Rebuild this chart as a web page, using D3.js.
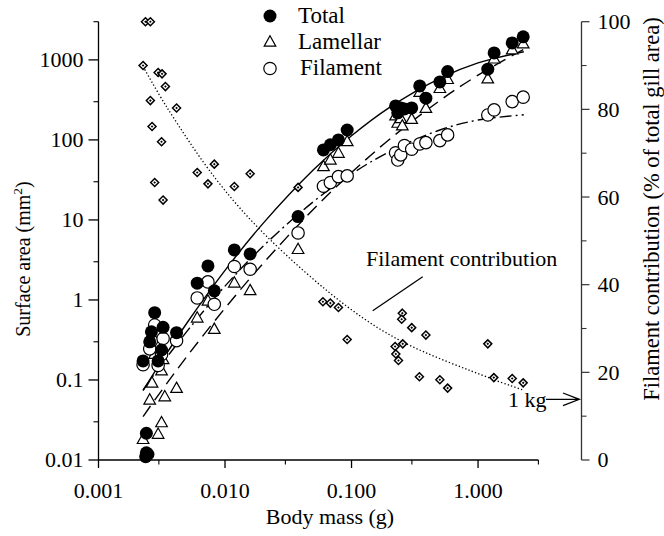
<!DOCTYPE html>
<html><head><meta charset="utf-8">
<script src="https://cdn.jsdelivr.net/npm/d3@7"></script>
<style>
body{margin:0;background:#fff;}
svg{display:block;}
text{font-family:"Liberation Serif","Times New Roman",serif;fill:#000;}
</style></head>
<body>
<div id="chart"></div>
<script>
// ---------- DATA ----------
const totalMass = [0.00225,0.00296,0.00278,0.00324,0.00262,0.00414,0.00254,0.00315,0.00239,0.00239,0.00246,0.00236,
  0.00603,0.00733,0.00823,0.01185,0.0158,0.0378,0.060,0.068,0.0788,0.0924,
  0.223,0.232,0.245,0.262,0.299,0.346,0.387,0.499,0.575,1.194,1.34,1.862,2.275];
const totalArea = [0.173,0.173,0.694,0.455,0.40,0.39,0.30,0.237,0.0216,0.0123,0.0118,0.011,
  1.62,2.66,1.30,4.22,3.76,11.0,75,87,100,133,
  266,218,251,244,251,473,332,531,714,765,1223,1631,1939];

const lamellarMass = [0.00225,0.00296,0.00254,0.00265,0.00414,0.00315,0.00334,0.00315,0.00278,0.00324,
  0.00603,0.00733,0.00823,0.01185,0.0158,0.0378,0.060,0.068,0.0788,0.0924,
  0.223,0.232,0.245,0.252,0.299,0.346,0.387,0.499,0.575,1.194,1.34,1.862,2.275];
const lamellarArea = [0.0181,0.021,0.0562,0.0917,0.0787,0.13,0.0618,0.0293,0.21,0.18,
  0.596,0.97,0.43,1.63,1.31,4.28,46.4,56.2,68.2,95.3,
  200,162,185,150,181,393,248,440,570,579,1029,1334,1585];

const filamentMass = [0.00225,0.00296,0.00254,0.00262,0.00414,0.00324,0.00278,0.00315,
  0.00603,0.00733,0.00823,0.01185,0.0158,0.0378,0.060,0.068,0.0788,0.0924,
  0.223,0.232,0.245,0.262,0.299,0.346,0.387,0.499,0.575,1.194,1.34,1.862,2.275];
const filamentArea = [0.155,0.152,0.245,0.31,0.31,0.33,0.487,0.208,
  1.06,1.68,0.883,2.62,2.42,6.88,26.4,29.3,34.8,35.5,
  69,56,65,85,76.5,89,92.5,98,115.5,205,237,301,342];

const contribMass = [0.00235,0.00257,0.00225,0.00296,0.00318,0.00338,0.00257,0.00414,0.00265,0.00315,
  0.00823,0.00603,0.0158,0.00278,0.00733,0.01185,0.0378,0.00324,0.0594,0.068,0.0788,0.0924,
  0.252,0.249,0.299,0.387,0.221,0.254,0.224,0.235,0.344,0.499,0.575,1.194,1.333,1.862,2.275];
const contribPct = [100,100,90.0,88.4,88.1,85.2,82.0,80.3,76.1,72.6,
  67.5,65.6,65.3,63.3,63.0,62.4,62.2,59.3,36.1,35.8,34.8,27.5,
  33.5,32.1,30.2,28.5,25.9,26.5,24.2,22.7,19.0,18.3,16.4,26.5,18.8,18.6,17.6];

// fitted curves
const fitMass = [0.00225,0.003,0.005,0.01,0.02,0.05,0.1,0.2,0.5,1,2.3];
const totalFit = [0.0736,0.152,0.515,2.34,9.06,42.3,112.5,255,588,916,1262];
const lamellarFit = [0.0349,0.0662,0.197,0.789,2.86,13.6,39.1,102,311,644,1355];
const filamentFit = [0.075,0.141,0.405,1.49,4.69,16.9,37.5,71.4,133,177,206];
const contribFitMass = [0.00225,0.00345,0.00858,0.0214,0.0924,0.252,1.26,2.26];
const contribFitPct = [89.8,80.6,63.9,51.0,35.0,27.0,18.6,16.0];

const xTicks = [0.001,0.01,0.1,1];
const xTickLabels = ["0.001","0.010","0.100","1.000"];
const xMinor = [0.003,0.03,0.3,3];
const yTicks = [0.01,0.1,1,10,100,1000];
const yTickLabels = ["0.01","0.1","1","10","100","1000"];
const yMinor = [0.03,0.3,3,30,300,3000];
const rTicks = [0,20,40,60,80,100];
const rMinor = [10,30,50,70,90];

// ---------- CHART ----------
const W = 664, H = 536;
const svg = d3.select("#chart").append("svg").attr("width", W).attr("height", H);

const x = d3.scaleLog().domain([0.001, 3]).range([98.5, 538.4]);
const y = d3.scaleLog().domain([0.01, 3000]).range([460, 21.7]);
const yr = d3.scaleLinear().domain([0, 100]).range([460, 21.7]);
const rightX = 581.5;

// axes
const gx = svg.append("g").attr("transform", "translate(0,460)");
gx.append("line").attr("x1", x(0.001)).attr("x2", x(3)).attr("stroke", "#000").attr("stroke-width", 1.3);
gx.selectAll(".mj").data(xTicks).join("line").attr("x1", d => x(d)).attr("x2", d => x(d))
  .attr("y1", 0).attr("y2", 8).attr("stroke", "#000").attr("stroke-width", 1.3);
gx.selectAll(".mn").data(xMinor).join("line").attr("x1", d => x(d)).attr("x2", d => x(d))
  .attr("y1", 0).attr("y2", 4.5).attr("stroke", "#000").attr("stroke-width", 1.1);
gx.selectAll("text").data(xTicks).join("text").attr("x", d => x(d)).attr("y", 38)
  .attr("text-anchor", "middle").attr("font-size", 22).text((d, i) => xTickLabels[i]);

const gy = svg.append("g").attr("transform", "translate(98.5,0)");
gy.append("line").attr("y1", y(0.01)).attr("y2", y(3000)).attr("stroke", "#000").attr("stroke-width", 1.3);
gy.selectAll(".mj").data(yTicks).join("line").attr("y1", d => y(d)).attr("y2", d => y(d))
  .attr("x1", 0).attr("x2", -10).attr("stroke", "#000").attr("stroke-width", 1.3);
gy.selectAll(".mn").data(yMinor).join("line").attr("y1", d => y(d)).attr("y2", d => y(d))
  .attr("x1", 0).attr("x2", -5).attr("stroke", "#000").attr("stroke-width", 1.1);
gy.selectAll("text").data(yTicks).join("text").attr("x", -15).attr("y", d => y(d)).attr("dy", "0.34em")
  .attr("text-anchor", "end").attr("font-size", 22).text((d, i) => yTickLabels[i]);

const gr = svg.append("g").attr("transform", `translate(${rightX},0)`);
gr.append("line").attr("y1", yr(0)).attr("y2", yr(100)).attr("stroke", "#333").attr("stroke-width", 1.3);
gr.selectAll(".mj").data(rTicks).join("line").attr("y1", d => yr(d)).attr("y2", d => yr(d))
  .attr("x1", 0).attr("x2", 8).attr("stroke", "#333").attr("stroke-width", 1.2);
gr.selectAll(".mn").data(rMinor).join("line").attr("y1", d => yr(d)).attr("y2", d => yr(d))
  .attr("x1", 0).attr("x2", 5).attr("stroke", "#333").attr("stroke-width", 1.1);
gr.selectAll("text").data(rTicks).join("text").attr("x", 16).attr("y", d => yr(d)).attr("dy", "0.34em")
  .attr("text-anchor", "start").attr("font-size", 22).text(d => d);

// axis titles
svg.append("text").attr("x", 330).attr("y", 524).attr("text-anchor", "middle").attr("font-size", 22).text("Body mass (g)");
const lt = svg.append("text").attr("transform", "translate(30,259) rotate(-90)").attr("text-anchor", "middle").attr("font-size", 20);
lt.append("tspan").text("Surface area (mm");
lt.append("tspan").attr("font-size", 13.5).attr("dy", -8).text("2");
lt.append("tspan").attr("dy", 8).text(")");
svg.append("text").attr("transform", "translate(659,209) rotate(-90)").attr("text-anchor", "middle")
  .attr("font-size", 22.5).text("Filament contribution (% of total gill area)");

// curves
const line = d3.line().curve(d3.curveCatmullRom.alpha(0.5));
svg.append("path").attr("d", line(fitMass.map((m, i) => [x(m), y(totalFit[i])])))
  .attr("fill", "none").attr("stroke", "#000").attr("stroke-width", 1.4);
svg.append("path").attr("d", line(fitMass.map((m, i) => [x(m), y(lamellarFit[i])])))
  .attr("fill", "none").attr("stroke", "#000").attr("stroke-width", 1.4).attr("stroke-dasharray", "13,7");
svg.append("path").attr("d", line(fitMass.map((m, i) => [x(m), y(filamentFit[i])])))
  .attr("fill", "none").attr("stroke", "#000").attr("stroke-width", 1.4).attr("stroke-dasharray", "12,4,2,4");
svg.append("path").attr("d", line(contribFitMass.map((m, i) => [x(m), yr(contribFitPct[i])])))
  .attr("fill", "none").attr("stroke", "#000").attr("stroke-width", 1.3).attr("stroke-dasharray", "1.3,2.2");

// markers
const diamond = r => `M0,${-r}L${r},0L0,${r}L${-r},0Z`;
const tri = "M0,-6.2L5.8,4.1L-5.8,4.1Z";
const gd = svg.append("g");
contribMass.forEach((m, i) => {
  const g = gd.append("g").attr("transform", `translate(${x(m)},${yr(contribPct[i])})`);
  g.append("path").attr("d", diamond(4)).attr("fill", "#fff").attr("stroke", "#000").attr("stroke-width", 1.5);
  g.append("path").attr("d", diamond(1.3)).attr("fill", "#000");
});
svg.append("g").selectAll("path").data(lamellarMass).join("path")
  .attr("transform", (m, i) => `translate(${x(m)},${y(lamellarArea[i])})`)
  .attr("d", tri).attr("fill", "#fff").attr("stroke", "#000").attr("stroke-width", 1.2);
svg.append("g").selectAll("circle").data(filamentMass).join("circle")
  .attr("cx", m => x(m)).attr("cy", (m, i) => y(filamentArea[i])).attr("r", 6.2)
  .attr("fill", "#fff").attr("stroke", "#000").attr("stroke-width", 1.2);
svg.append("g").selectAll("circle").data(totalMass).join("circle")
  .attr("cx", m => x(m)).attr("cy", (m, i) => y(totalArea[i])).attr("r", 6.5).attr("fill", "#000");

// legend
svg.append("circle").attr("cx", 270).attr("cy", 16).attr("r", 6.5).attr("fill", "#000");
svg.append("text").attr("x", 298).attr("y", 23).attr("font-size", 23).text("Total");
svg.append("path").attr("transform", "translate(270,42)").attr("d", tri).attr("fill", "#fff").attr("stroke", "#000").attr("stroke-width", 1.2);
svg.append("text").attr("x", 298).attr("y", 49).attr("font-size", 23).text("Lamellar");
svg.append("circle").attr("cx", 270).attr("cy", 68.5).attr("r", 6.2).attr("fill", "#fff").attr("stroke", "#000").attr("stroke-width", 1.2);
svg.append("text").attr("x", 300).attr("y", 75).attr("font-size", 23).text("Filament");

// annotations
svg.append("text").attr("x", 366).attr("y", 266).attr("font-size", 22).text("Filament contribution");
svg.append("line").attr("x1", 422.7).attr("y1", 276.7).attr("x2", 372.7).attr("y2", 310.7).attr("stroke", "#000").attr("stroke-width", 1.3);
svg.append("text").attr("x", 508).attr("y", 407).attr("font-size", 22).text("1 kg");
svg.append("path").attr("d", "M546,399.3L579.3,399.3M563,393L579.3,399.3L563,405.6")
  .attr("fill", "none").attr("stroke", "#000").attr("stroke-width", 1.3);
</script>
</body></html>
